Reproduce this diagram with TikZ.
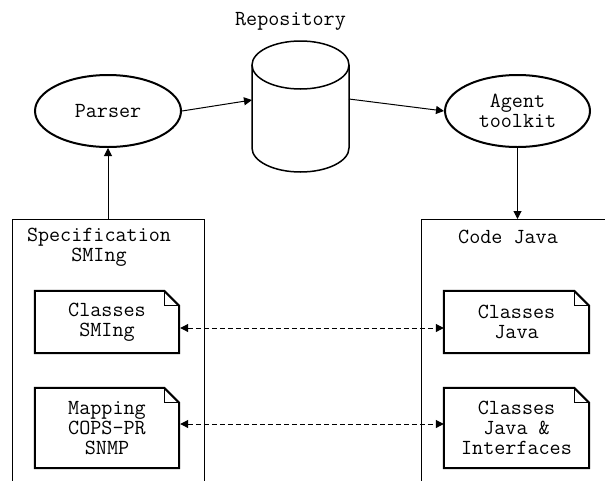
\documentclass[tikz,border=0pt]{standalone}
\usepackage{fontspec}
\usetikzlibrary{shapes.geometric,arrows.meta}
\begin{document}
\begin{tikzpicture}[x=1pt,y=-1pt,
  font=\ttfamily\fontsize{21.5}{20}\selectfont,
  ell/.style={ellipse,draw,line width=2pt,minimum width=146pt,minimum height=72pt,inner sep=0pt,align=center},
  doc/.style={minimum width=144pt,inner sep=0pt,align=center},
  lbl/.style={inner sep=0pt,align=center},
  arr/.style={line width=1pt,-{Triangle[length=8pt,width=8pt]}},
  darr/.style={line width=1pt,dash pattern=on 5pt off 3pt,{Triangle[length=8pt,width=8pt]}-{Triangle[length=8pt,width=8pt]}},
  boxline/.style={line width=1pt},
  docline/.style={line width=2pt,line join=miter},
  fold/.style={line width=0.8pt}]
\useasboundingbox (0,0) rectangle (605,480);
\fill[white] (0,0) rectangle (605,480);
% repository cylinder
\node[lbl] (repolbl) at (290.5,21) {Repository};
\coordinate (cyltop) at (300.5,65);
\coordinate (cylbot) at (300.5,148);
\draw[line width=1.5pt] (cyltop) ellipse [x radius=48.5, y radius=24];
\draw[line width=1.5pt] ([xshift=-48.5pt]cyltop) -- ([xshift=-48.5pt]cylbot)
  arc[start angle=180,end angle=360,x radius=48.5,y radius=-24] -- ([xshift=48.5pt]cyltop);
\coordinate (cylin) at (252,100);
\coordinate (cylout) at (349,99);
% ellipses
\node[ell] (parser) at (108,111) {Parser};
\node[ell,minimum width=145pt] (agent) at (517.5,111) {Agent\\toolkit};
% open boxes
\coordinate (lbA) at (12,485);
\coordinate (lbB) at (12,219);
\coordinate (lbC) at (204,219);
\coordinate (lbD) at (204,485);
\draw[boxline] (lbA) -- (lbB) -- (lbC) -- (lbD);
\coordinate (rbA) at (421,485);
\coordinate (rbB) at (421,219);
\coordinate (rbC) at (610,219);
\draw[boxline] (rbA) -- (rbB) -- (rbC);
\node[lbl] (spec) at (99,247) {Specification\\SMIng};
\node[lbl] (code) at (508,237) {Code Java};
\coordinate (lbtop) at (108,219);
\coordinate (rbtop) at (517.5,219);
% arrows
\draw[arr] (parser.east) -- (cylin);
\draw[arr] (cylout) -- (agent.west);
\draw[arr] (lbtop) -- (parser.south);
\draw[arr] (agent.south) -- (rbtop);
% documents
\node[doc,minimum height=62pt] (cs) at (107,322) {Classes\\SMIng};
\node[doc,minimum height=80pt] (mp) at (107,428) {Mapping\\COPS-PR\\SNMP};
\node[doc,minimum width=145pt,minimum height=62pt] (cj) at (516.5,322) {Classes\\Java};
\node[doc,minimum width=145pt,minimum height=80pt] (ci) at (516.5,428) {Classes\\Java \&\\Interfaces};
\foreach \n in {cs,mp,cj,ci}{
  \draw[docline] (\n.south west) -- (\n.north west) -- ([xshift=-15pt]\n.north east)
    -- ([yshift=-15pt]\n.north east) -- (\n.south east) -- cycle;
  \draw[fold] ([xshift=-15pt]\n.north east) -- ([xshift=-15pt,yshift=-15pt]\n.north east) -- ([yshift=-15pt]\n.north east);
}
\draw[darr] ([xshift=1pt,yshift=-6pt]cs.east) -- ([yshift=-6pt]cj.west);
\draw[darr] ([xshift=1pt,yshift=4pt]mp.east) -- ([yshift=4pt]ci.west);
\end{tikzpicture}
\end{document}
